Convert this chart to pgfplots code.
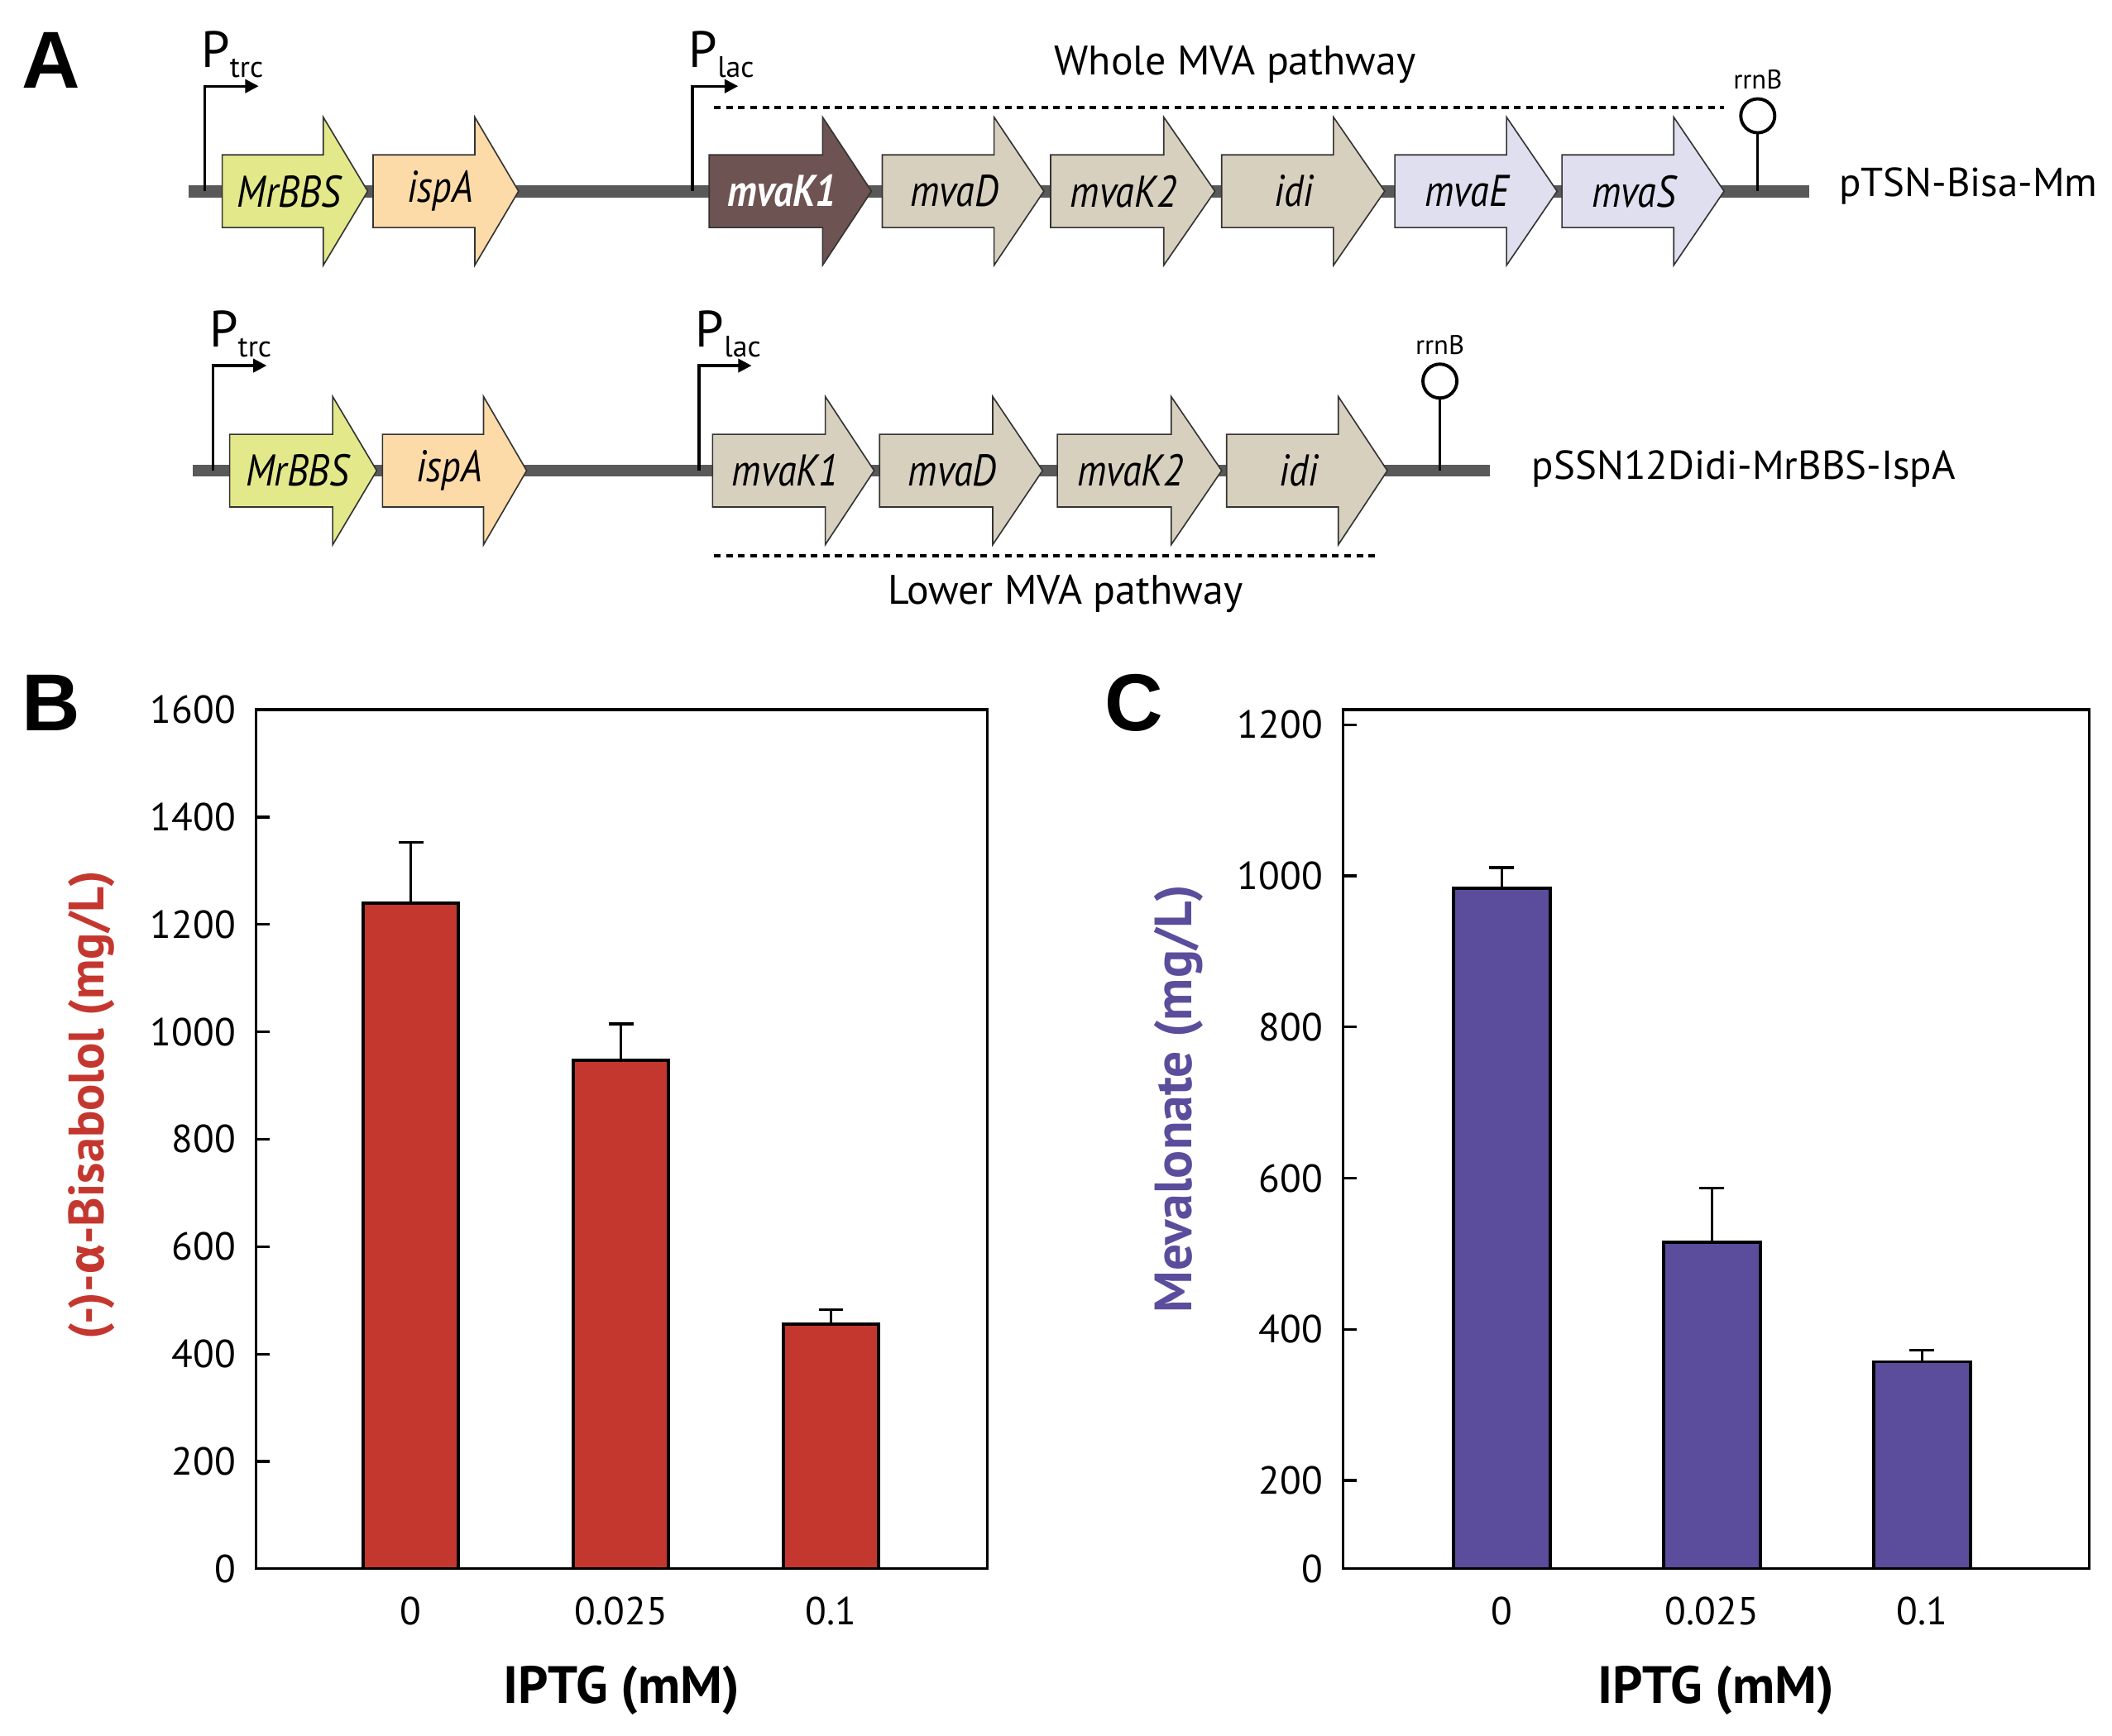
\documentclass[border=0pt]{standalone}
\usepackage{fontspec}
\setmainfont{PT Sans}
\newfontfamily\greekfont{Fira Sans}
\newfontfamily\letterfont{Liberation Sans}
\newfontfamily\genefont[FakeStretch=0.86]{PT Sans}
\usepackage{pgfplots}
\pgfplotsset{compat=1.18}
\usetikzlibrary{arrows.meta}

\definecolor{barred}{HTML}{C4372F}
\definecolor{barpurple}{HTML}{5B4D9B}
\definecolor{gYel}{HTML}{E3E98A}
\definecolor{gPea}{HTML}{FDDBA9}
\definecolor{gDark}{HTML}{6D5352}
\definecolor{gTan}{HTML}{D8D0BE}
\definecolor{gLav}{HTML}{DFDFEF}
\definecolor{dna}{HTML}{595959}

% #1 left, #2 start of head, #3 tip, #4 y centre, #5 fill, #6 label, #7 text colour
\newcommand\gene[7]{%
  \draw[line width=0.5pt, draw=black!80, fill=#5]
    (#1,{#4-27}) -- (#2,{#4-27}) -- (#2,{#4-55}) -- (#3,#4) -- (#2,{#4+55})
    -- (#2,{#4+27}) -- (#1,{#4+27}) -- cycle;
  \node[text=#7, font=\genefont\itshape\fontsize{16.5}{17}\selectfont, inner sep=0pt]
    at ({(#1+#2)/2+12},#4) {#6};
}
% promoter arrow: x, y of DNA, x end, label
\newcommand\promoter[4]{%
  \draw[line width=1pt, -{Triangle[length=5pt,width=5pt]}] (#1,#2) -- (#1,{#2-78}) -- (#3,{#2-78});
  \node[anchor=base west, inner sep=0pt, font=\fontsize{19}{19}\selectfont]
    at ({#1-3},{#2-92}) {P\raisebox{-0.4ex}{\fontsize{11}{11}\selectfont #4}};
}
\newcommand\terminator[3]{%
  \draw[line width=1pt] (#1,#2) -- (#1,{#3+13});
  \draw[line width=1.2pt, fill=white] (#1,#3) circle[radius=6.3pt];
  \node[font=\fontsize{10}{10}\selectfont, inner sep=0pt] at (#1,{#3-27}) {rrnB};
}

\begin{document}
\begin{tikzpicture}
\begin{scope}[x=0.5pt, y=-0.5pt]
  \path[use as bounding box] (0,0) rectangle (1568,1289);

  % panel letters
  \node[font=\letterfont\bfseries\fontsize{30}{30}\selectfont] at (38,45) {A};
  \node[font=\letterfont\bfseries\fontsize{30}{30}\selectfont] at (38,522) {B};
  \node[font=\letterfont\bfseries\fontsize{30}{30}\selectfont] at (842,522) {C};

  % top construct
  \fill[dna] (140,137.5) rectangle (1343,146.5);
  \promoter{152}{142}{192}{trc}
  \promoter{514}{142}{548}{lac}
  \gene{165}{240}{273}{142}{gYel}{MrBBS}{black}
  \gene{277}{352.5}{385}{142}{gPea}{ispA}{black}
  \gene{526.5}{610.7}{647}{142}{gDark}{\bfseries mvaK1}{white}
  \gene{655}{738}{775}{142}{gTan}{mvaD}{black}
  \gene{780}{864}{902}{142}{gTan}{mvaK2}{black}
  \gene{907}{990}{1028}{142}{gTan}{idi}{black}
  \gene{1035.6}{1118.5}{1156}{142}{gLav}{mvaE}{black}
  \gene{1159.6}{1242.6}{1280}{142}{gLav}{mvaS}{black}
  \terminator{1305}{142}{86}
  \draw[line width=1.3pt, dash pattern=on 2.5pt off 2pt] (530,80) -- (1280,80);
  \node[font=\fontsize{15.3}{16}\selectfont] at (917,48) {Whole MVA pathway};
  \node[anchor=base west, inner sep=0pt, font=\fontsize{15}{16}\selectfont] at (1365,146) {pTSN-Bisa-Mm};

  % bottom construct
  \fill[dna] (143,345) rectangle (1106,354);
  \promoter{158}{349.5}{198}{trc}
  \promoter{519}{349.5}{558}{lac}
  \gene{170.5}{247}{279.7}{349.5}{gYel}{MrBBS}{black}
  \gene{284}{359}{391}{349.5}{gPea}{ispA}{black}
  \gene{529}{612.7}{649}{349.5}{gTan}{mvaK1}{black}
  \gene{653}{737}{774}{349.5}{gTan}{mvaD}{black}
  \gene{785}{869.5}{907}{349.5}{gTan}{mvaK2}{black}
  \gene{910.7}{993.6}{1030}{349.5}{gTan}{idi}{black}
  \terminator{1069}{349.5}{283}
  \draw[line width=1.3pt, dash pattern=on 2.5pt off 2pt] (530,412.5) -- (1023,412.5);
  \node[font=\fontsize{15.3}{16}\selectfont] at (791,441) {Lower MVA pathway};
  \node[anchor=base west, inner sep=0pt, font=\fontsize{15}{16}\selectfont] at (1137,356) {pSSN12Didi-MrBBS-IspA};
\end{scope}

\pgfplotsset{
  barpanel/.style={
    anchor=south west, scale only axis, height=319pt,
    xtick={0,1,2}, xticklabels={0,0.025,0.1},
    xtick style={draw=none}, ytick pos=left, tick align=inside,
    major tick length=5pt, tick style={line width=1pt, black},
    axis line style={line width=1pt},
    tick label style={font=\fontsize{14.5}{16}\selectfont},
    /pgf/number format/assume math mode=true,
    /pgf/number format/1000 sep={},
    xticklabel style={yshift=-7pt},
    yticklabel style={xshift=-4pt},
    xlabel={IPTG (mM)},
    xlabel style={font=\bfseries\fontsize{19.5}{20}\selectfont, at={(axis description cs:0.5,-0.141)}, anchor=center},
  },
  errstyle/.style={error bars/.cd, y dir=plus, y explicit,
    error bar style={line width=1pt, black},
    error mark options={rotate=90, mark size=4.6pt, line width=1pt, black}},
}

% panel B
\begin{axis}[barpanel, at={(95pt,-582.5pt)}, width=271.5pt,
  xmin=-0.737, xmax=2.744, ymin=0, ymax=1600, ytick={0,200,...,1600},
  ylabel={(-)-{\greekfont\bfseries α}-Bisabolol (mg/L)},
  ylabel style={text=barred, font=\bfseries\fontsize{18.5}{19}\selectfont,
    at={(axis description cs:-0.225,0.54)}, anchor=center}]
\addplot[ybar, bar width=0.45, fill=barred, draw=black, line width=1.2pt, errstyle]
  coordinates {(0,1240) +- (0,113) (1,947) +- (0,68) (2,456) +- (0,27)};
\end{axis}

% panel C (axis starts above zero, bottom tick labelled 0)
\begin{axis}[barpanel, at={(498.5pt,-582.5pt)}, width=277pt,
  xmin=-0.756, xmax=2.795, ymin=83, ymax=1220,
  ytick={83,200,400,600,800,1000,1200},
  yticklabels={0,200,400,600,800,1000,1200},
  ylabel={Mevalonate (mg/L)},
  ylabel style={text=barpurple, font=\bfseries\fontsize{19.5}{20}\selectfont,
    at={(axis description cs:-0.22,0.547)}, anchor=center}]
\addplot[ybar, bar width=0.46, fill=barpurple, draw=black, line width=1.2pt, errstyle]
  coordinates {(0,984) +- (0,27) (1,515) +- (0,72) (2,357) +- (0,15)};
\end{axis}
\end{tikzpicture}
\end{document}
